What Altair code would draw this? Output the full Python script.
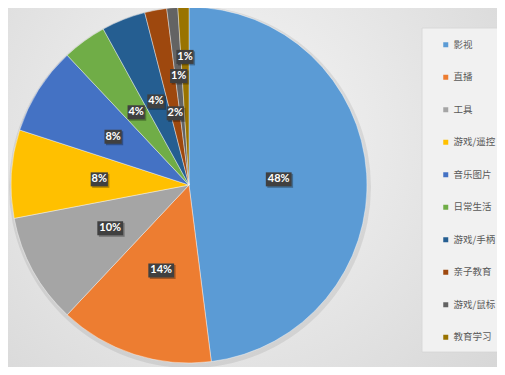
import altair as alt
import pandas as pd

categories = ["影视", "直播", "工具", "游戏/遥控", "音乐图片", "日常生活", "游戏/手柄", "亲子教育", "游戏/鼠标", "教育学习"]
values = [48, 14, 10, 8, 8, 4, 4, 2, 1, 1]
colors = ["#5B9BD5", "#ED7D31", "#A5A5A5", "#FFC000", "#4472C4", "#70AD47", "#255E91", "#9E480E", "#636363", "#997300"]

df = pd.DataFrame({"i": list(range(len(categories))), "cat": categories, "v": values})

W, H = 489, 359
CX, CY, R = 181, 177, 178

one = alt.Data(values=[{}])

bg_grad = alt.Gradient(
    gradient="radial",
    stops=[alt.GradientStop(color="#f6f6f6", offset=0), alt.GradientStop(color="#d2d2d2", offset=1)],
    x1=0.45, y1=0.4, r1=0, x2=0.45, y2=0.4, r2=0.85,
)

bg = alt.Chart(one).mark_rect(fill=bg_grad).encode(
    x=alt.value(0), x2=alt.value(W), y=alt.value(0), y2=alt.value(H)
)

legend_box = alt.Chart(one).mark_rect(fill="#f1f1f1", stroke="#d6d6d6", strokeWidth=0.8).encode(
    x=alt.value(414), x2=alt.value(W + 4), y=alt.value(20), y2=alt.value(344)
)

pie_shadow = alt.Chart(one).mark_arc(theta=0, theta2=6.2832, radius=R + 3, fill="#000000", opacity=0.08).encode(
    x=alt.value(CX + 1), y=alt.value(CY + 2)
)

base = alt.Chart(df)

pie = base.mark_arc(radius=R, stroke="#ffffff", strokeWidth=0.4).encode(
    theta=alt.Theta("v:Q", stack=True),
    color=alt.Color(
        "cat:N",
        sort=categories,
        scale=alt.Scale(domain=categories, range=colors),
        legend=alt.Legend(
            title=None, orient="none", legendX=433, legendY=32,
            symbolType="square", symbolSize=25, symbolStrokeWidth=0,
            labelFontSize=9.5, labelFont="Noto Sans CJK SC", labelColor="#595959",
            rowPadding=21.5, labelOffset=3, padding=0, labelLimit=200,
        ),
    ),
    order=alt.Order("i:Q"),
    x=alt.value(CX),
    y=alt.value(CY),
)

lab = base.transform_window(
    cum="sum(v)", sort=[alt.SortField("i")], frame=[None, 0]
).transform_joinaggregate(
    tot="sum(v)"
).transform_calculate(
    ang="(datum.cum - datum.v / 2) / datum.tot * 2 * PI",
    rf="datum.i == 9 ? 0.72 : datum.i == 8 ? 0.615 : datum.i == 7 ? 0.41 : 0.505",
    px=f"{CX} + datum.rf * {R} * sin(datum.ang)",
    py=f"{CY} - datum.rf * {R} * cos(datum.ang)",
    lbl="datum.v + '%'",
    hw="length(datum.lbl) * 4.3",
    bx1="datum.px - datum.hw",
    bx2="datum.px + datum.hw",
    by1="datum.py - 7",
    by2="datum.py + 7",
    sx1="datum.px - datum.hw + 1.5",
    sx2="datum.px + datum.hw + 1.5",
    sy1="datum.py - 5.5",
    sy2="datum.py + 8.5",
)

box_shadow = lab.mark_rect(fill="#000000", opacity=0.3).encode(
    x=alt.X("sx1:Q", scale=None, axis=None), x2="sx2:Q",
    y=alt.Y("sy1:Q", scale=None, axis=None), y2="sy2:Q",
)

box = lab.mark_rect(fill="#404040").encode(
    x=alt.X("bx1:Q", scale=None, axis=None), x2="bx2:Q",
    y=alt.Y("by1:Q", scale=None, axis=None), y2="by2:Q",
)

txt = lab.mark_text(font="Lato", fontWeight="bold", fontSize=11, color="#ffffff", align="center", baseline="middle").encode(
    x=alt.X("px:Q", scale=None, axis=None),
    y=alt.Y("py:Q", scale=None, axis=None),
    text="lbl:N",
)

chart = alt.layer(bg, legend_box, pie_shadow, pie, box_shadow, box, txt).properties(
    width=W, height=H, autosize=alt.AutoSizeParams(type="none"), padding=0
).configure_view(strokeWidth=0)

chart.save("out.html", embed_options={"renderer": "svg", "actions": False})
